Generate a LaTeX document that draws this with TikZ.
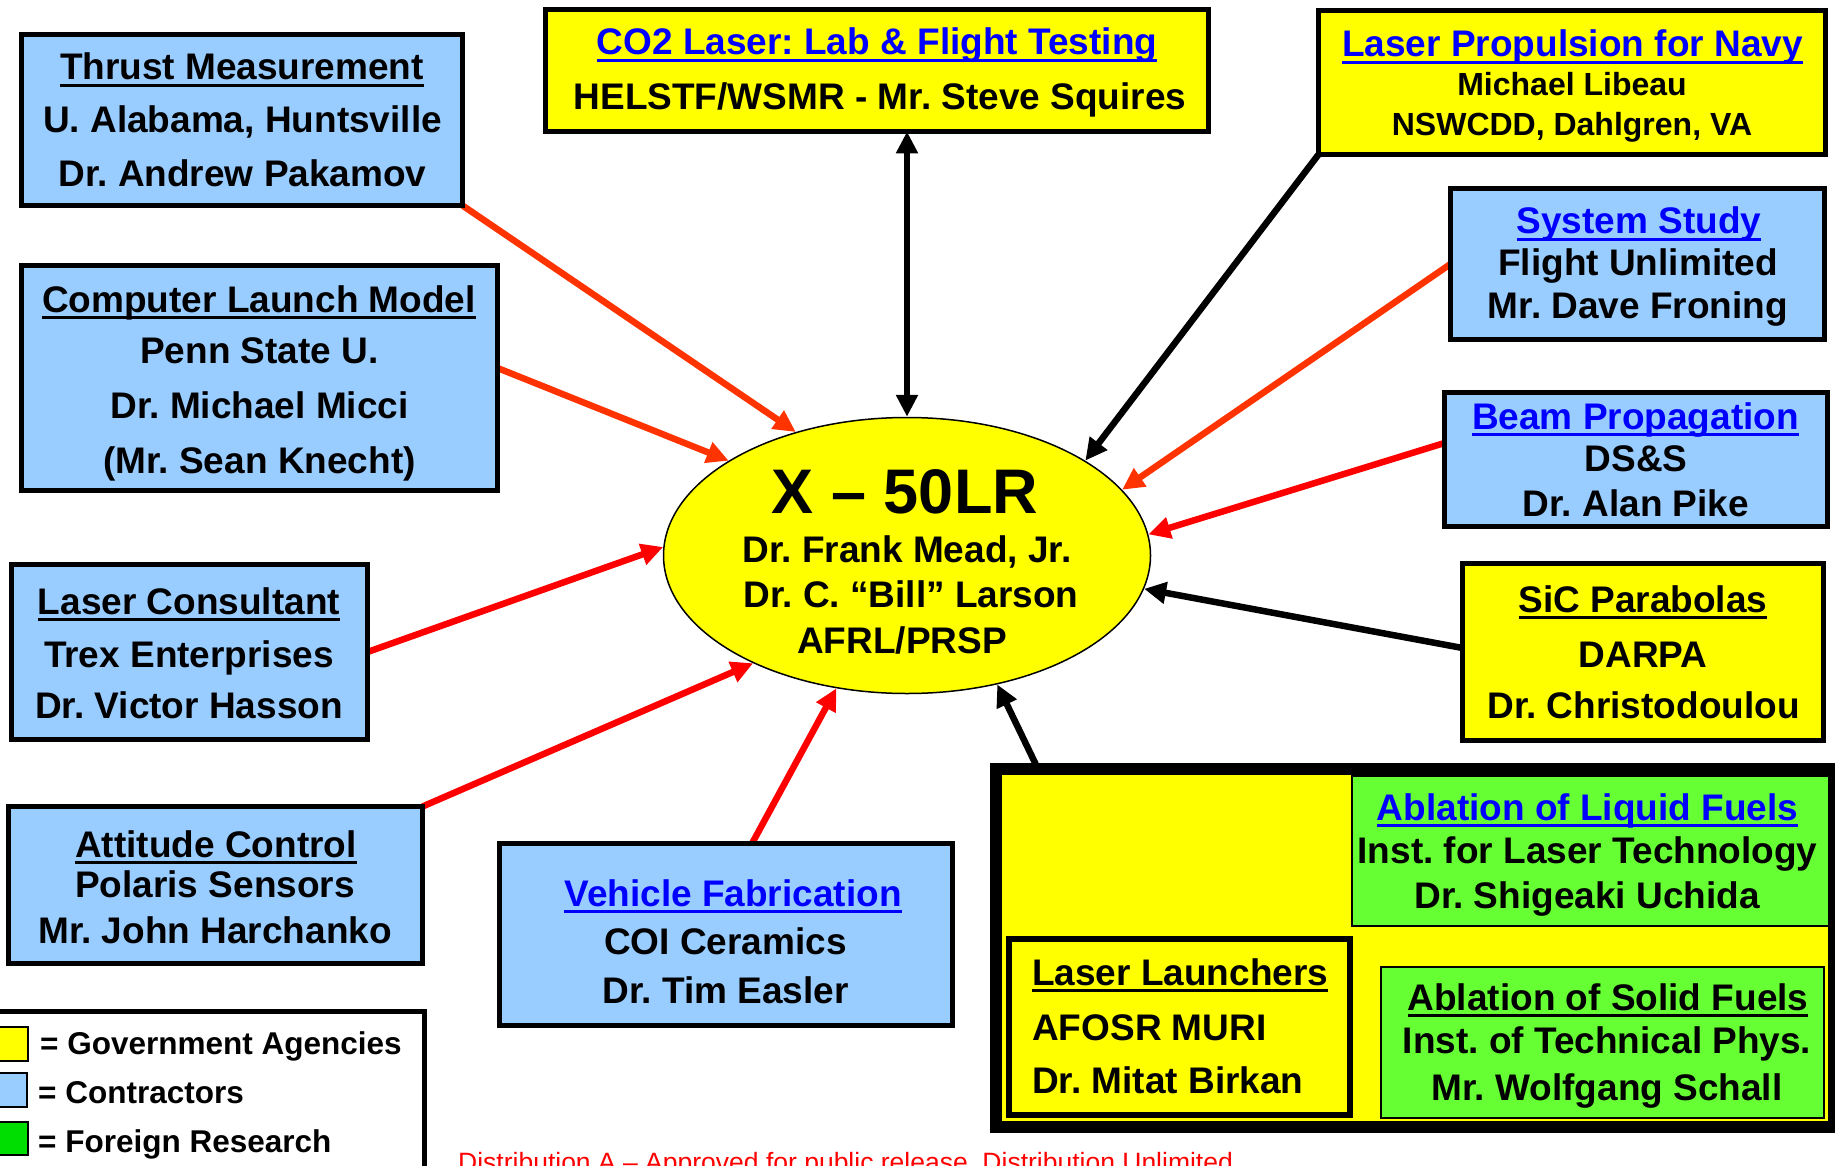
\documentclass[tikz,border=0pt]{standalone}
\usepackage{fontspec}
\setmainfont{Liberation Sans}
\usetikzlibrary{arrows.meta,shapes.geometric}
\definecolor{boxblue}{HTML}{99CCFF}
\definecolor{gyellow}{HTML}{FFFF00}
\definecolor{fgreen}{HTML}{66FF33}
\definecolor{leggreen}{HTML}{00DD00}
\definecolor{linkblue}{HTML}{0000FF}
\definecolor{arrred}{HTML}{FF0000}
\definecolor{arrorange}{HTML}{FF3300}
\newcommand\myul[1]{\setbox0\hbox{#1}\rlap{\rule[-0.2em]{\wd0}{0.08em}}\box0}
\pgfdeclarelayer{back}
\pgfdeclarelayer{mid}
\pgfsetlayers{back,mid,main}
\frenchspacing
\begin{document}
\frenchspacing
\begin{tikzpicture}[x=1pt,y=-1pt,
  box/.style={draw=black, line width=5pt, inner sep=0pt, outer sep=0pt},
  bbox/.style={box, fill=boxblue},
  ybox/.style={box, fill=gyellow},
  gbox/.style={draw=black, line width=2pt, fill=fgreen, inner sep=0pt, outer sep=0pt},
  swatch/.style={draw=black, line width=1.5pt, inner sep=0pt, outer sep=0pt},
  t/.style={anchor=base, inner sep=0pt, font=\fontsize{37}{44}\selectfont\bfseries},
  tb/.style={t, text=linkblue},
  tw/.style={t, anchor=base west},
  ts/.style={t, font=\fontsize{32}{38}\selectfont\bfseries},
  lt/.style={anchor=base west, inner sep=0pt, font=\fontsize{31.5}{38}\selectfont\bfseries},
  conn/.style={line width=6.5pt, -{Triangle[length=22pt,width=21pt]}},
  redarr/.style={conn, draw=arrred, fill=arrred},
  orarr/.style={conn, draw=arrorange, fill=arrorange},
  blkarr/.style={conn, draw=black, fill=black},
]
\useasboundingbox (0,0) rectangle (1835,1166);
\clip (0,0) rectangle (1835,1166);

\begin{pgfonlayer}{back}
\fill[white] (0,0) rectangle (1835,1166);
\node[ellipse, draw=black, line width=1.5pt, fill=gyellow, inner sep=0pt,
      minimum width=487pt, minimum height=276pt] (ell) at (907,555.5) {};
\node[t, font=\fontsize{63}{70}\selectfont\bfseries] (e1) at (905,513) {X – 50LR};
\node[t] (e2) at (907,562) {Dr. Frank Mead, Jr.};
\node[t] (e3) at (911,607) {Dr. C. “Bill” Larson};
\node[t] (e4) at (902,653) {AFRL/PRSP};
\end{pgfonlayer}

% boxes
\node[bbox, minimum width=441pt, minimum height=171pt] (th) at (242,120) {};
\node[bbox, minimum width=476pt, minimum height=225pt] (cl) at (259.5,378) {};
\node[ybox, minimum width=663pt, minimum height=122pt] (cotwo) at (877,70.5) {};
\node[ybox, minimum width=507pt, minimum height=144pt] (nv) at (1572,82.5) {};
\node[bbox, minimum width=374pt, minimum height=151pt] (ss) at (1637.5,264) {};
\node[bbox, minimum width=383pt, minimum height=134pt] (bp) at (1636,459.5) {};
\node[ybox, minimum width=361pt, minimum height=177pt] (sic) at (1643,652) {};
\node[bbox, minimum width=356pt, minimum height=175pt] (lc) at (189.5,652) {};
\node[bbox, minimum width=414pt, minimum height=157pt] (ac) at (215.5,885) {};
\node[bbox, minimum width=453pt, minimum height=182pt] (vf) at (726,934.5) {};
\node[ybox, line width=12pt, minimum width=838pt, minimum height=358pt] (grp) at (1415,948) {};
\node[gbox, minimum width=477pt, minimum height=150pt] (alf) at (1590.5,851) {};
\node[ybox, line width=6pt, minimum width=341pt, minimum height=176pt] (ll) at (1179.5,1027) {};
\node[gbox, minimum width=443pt, minimum height=151pt] (asf) at (1602.5,1042.5) {};
\node[box, fill=white, minimum width=434.5pt, minimum height=188.5pt] (leg) at (207.25,1105.75) {};
\node[swatch, fill=gyellow, minimum width=38pt, minimum height=34pt] (lsy) at (9,1044) {};
\node[swatch, fill=boxblue, minimum width=37pt, minimum height=34pt] (lsb) at (8.5,1090) {};
\node[swatch, fill=leggreen, minimum width=38pt, minimum height=33pt] (lsg) at (9,1138.5) {};

% texts
\node[t] (th1) at (242,80) {\myul{Thrust Measurement}};
\node[t] (th2) at (242.5,133) {U. Alabama, Huntsville};
\node[t] (th3) at (242.5,187) {Dr. Andrew Pakamov};

\node[t] (cl1) at (259,312) {\myul{Computer Launch Model}};
\node[t] (cl2) at (259.5,363) {Penn State U.};
\node[t] (cl3) at (259.5,418) {Dr. Michael Micci};
\node[t] (cl4) at (259.5,473) {(Mr. Sean Knecht)};

\node[tb] (ct1) at (877,55) {\myul{CO2 Laser: Lab \& Flight Testing}};
\node[t] (ct2) at (880,110) {HELSTF/WSMR - Mr. Steve Squires};

\node[tb] (nv1) at (1572.5,57) {\myul{Laser Propulsion for Navy}};
\node[ts] (nv2) at (1572,96) {Michael Libeau};
\node[ts] (nv3) at (1572,136) {NSWCDD, Dahlgren, VA};

\node[tb] (ss1) at (1639,234) {\myul{System Study}};
\node[t] (ss2) at (1638,275) {Flight Unlimited};
\node[t] (ss3) at (1638,318) {Mr. Dave Froning};

\node[tb] (bp1) at (1635.5,429) {\myul{Beam Propagation}};
\node[t] (bp2) at (1636,471) {DS\&S};
\node[t] (bp3) at (1636,516) {Dr. Alan Pike};

\node[t] (sc1) at (1643,612) {\myul{SiC Parabolas}};
\node[t] (sc2) at (1643,667) {DARPA};
\node[t] (sc3) at (1643.5,718) {Dr. Christodoulou};

\node[t] (lc1) at (189,614) {\myul{Laser Consultant}};
\node[t] (lc2) at (189,667) {Trex Enterprises};
\node[t] (lc3) at (189,718) {Dr. Victor Hasson};

\node[t] (ac1) at (216,857) {\myul{Attitude Control}};
\node[t] (ac2) at (215,897) {Polaris Sensors};
\node[t] (ac3) at (215,943) {Mr. John Harchanko};

\node[tb] (vf1) at (733,906) {\myul{Vehicle Fabrication}};
\node[t] (vf2) at (725.5,954) {COI Ceramics};
\node[t] (vf3) at (725.5,1003) {Dr. Tim Easler};

\node[tw] (ll1) at (1032,985) {\myul{Laser Launchers}};
\node[tw] (ll2) at (1032,1040) {AFOSR MURI};
\node[tw] (ll3) at (1032,1093) {Dr. Mitat Birkan};

\node[tb] (lf1) at (1587.5,820) {\myul{Ablation of Liquid Fuels}};
\node[t] (lf2) at (1587.5,863) {Inst. for Laser Technology};
\node[t] (lf3) at (1587,908) {Dr. Shigeaki Uchida};

\node[t] (sf1) at (1608,1010) {\myul{Ablation of Solid Fuels}};
\node[t] (sf2) at (1607,1053) {Inst. of Technical Phys.};
\node[t] (sf3) at (1607,1100) {Mr. Wolfgang Schall};

\node[lt] (lg1) at (40,1054) {= Government Agencies};
\node[lt] (lg2) at (38,1103) {= Contractors};
\node[lt] (lg3) at (38,1152) {= Foreign Research};

\node[anchor=base west, inner sep=0pt, text=arrred, font=\fontsize{26.5}{30}\selectfont] (foot) at (458,1171)
  {Distribution A – Approved for public release, Distribution Unlimited};

% connectors
\begin{pgfonlayer}{mid}
\draw[orarr] (th.south east) -- (ell.132);
\draw[orarr] ([yshift=10pt]cl.east) -- (ell.152.5);
\draw[redarr] (lc.east) -- (ell.178.4);
\draw[redarr] (ac.north east) -- (ell.215.4);
\draw[redarr] ([xshift=26pt]vf.north) -- (ell.242.7);
\draw[line width=6.5pt, draw=black, fill=black, {Triangle[length=22pt,width=21pt]}-{Triangle[length=22pt,width=21pt]}]
  ([xshift=30pt]cotwo.south) -- (ell.north);
\draw[blkarr] (nv.south west) -- (ell.28.4);
\draw[orarr] (ss.west) -- (ell.17);
\draw[redarr] ([yshift=16.5pt]bp.west) -- (ell.5.5);
\draw[blkarr] ([yshift=4pt]sic.west) -- (ell.-8.4);
\draw[blkarr] ([xshift=42pt]grp.north west) -- (ell.-55);
\end{pgfonlayer}
\end{tikzpicture}
\end{document}
